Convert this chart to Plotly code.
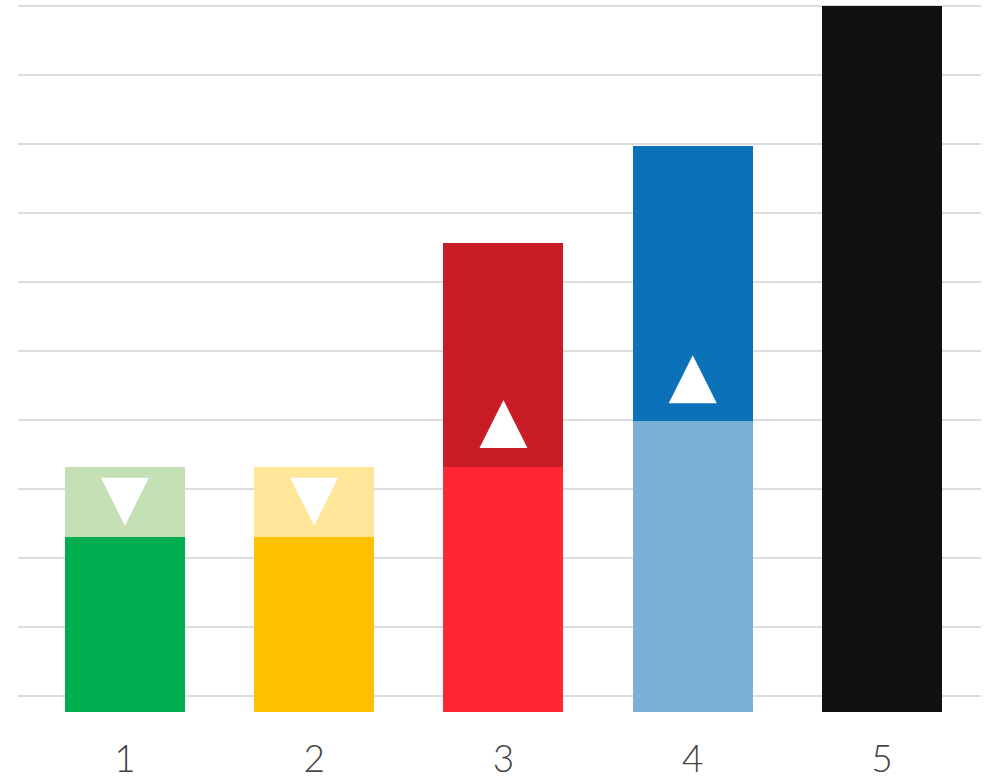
import plotly.graph_objects as go

categories = ["1", "2", "3", "4", "5"]
# segment heights, in gridline units measured from the bar base
lower_values = [2.54, 2.54, 3.55, 4.22, 10.23]
upper_values = [1.01, 1.01, 3.25, 3.99, 0]
lower_colors = ["#00AE4F", "#FFC000", "#FF2635", "#7BAFD6", "#111111"]
upper_colors = ["#C5E0B5", "#FFE699", "#C81C26", "#0B72BA", "#111111"]

# change indicators (tip position of the triangle)
arrow_categories = ["1", "2", "3", "4"]
arrow_values = [2.70, 2.70, 4.52, 5.17]
arrow_symbols = ["arrow-down", "arrow-down", "arrow-up", "arrow-up"]

fig = go.Figure()
fig.add_trace(go.Bar(x=categories, y=lower_values, marker=dict(color=lower_colors, line=dict(width=0)),
                     width=0.634, hoverinfo="skip"))
fig.add_trace(go.Bar(x=categories, y=upper_values, marker=dict(color=upper_colors, line=dict(width=0)),
                     width=0.634, hoverinfo="skip"))
fig.add_trace(go.Scatter(x=arrow_categories, y=arrow_values, mode="markers",
                         marker=dict(symbol=arrow_symbols, size=48, color="white", line=dict(width=0)),
                         hoverinfo="skip"))

fig.update_layout(
    barmode="stack",
    width=987, height=778,
    margin=dict(l=18, r=6, t=2, b=66),
    paper_bgcolor="white", plot_bgcolor="white",
    showlegend=False,
    xaxis=dict(type="category", range=[-0.565, 4.523], showgrid=False, zeroline=False, showline=False,
               ticks="", tickfont=dict(family="Lato", size=37, color="#444444", weight=300),
               ticklabelstandoff=22, automargin=False),
    yaxis=dict(range=[0, 10.29], tick0=0.232, dtick=1, showgrid=True, gridcolor="#DDDDDD", gridwidth=1.5,
               zeroline=False, showline=False, showticklabels=False, ticks="", automargin=False),
)

fig.write_html("out.html", config={"displayModeBar": False},
               post_script="document.body.style.margin='0';document.body.style.overflow='hidden';")
